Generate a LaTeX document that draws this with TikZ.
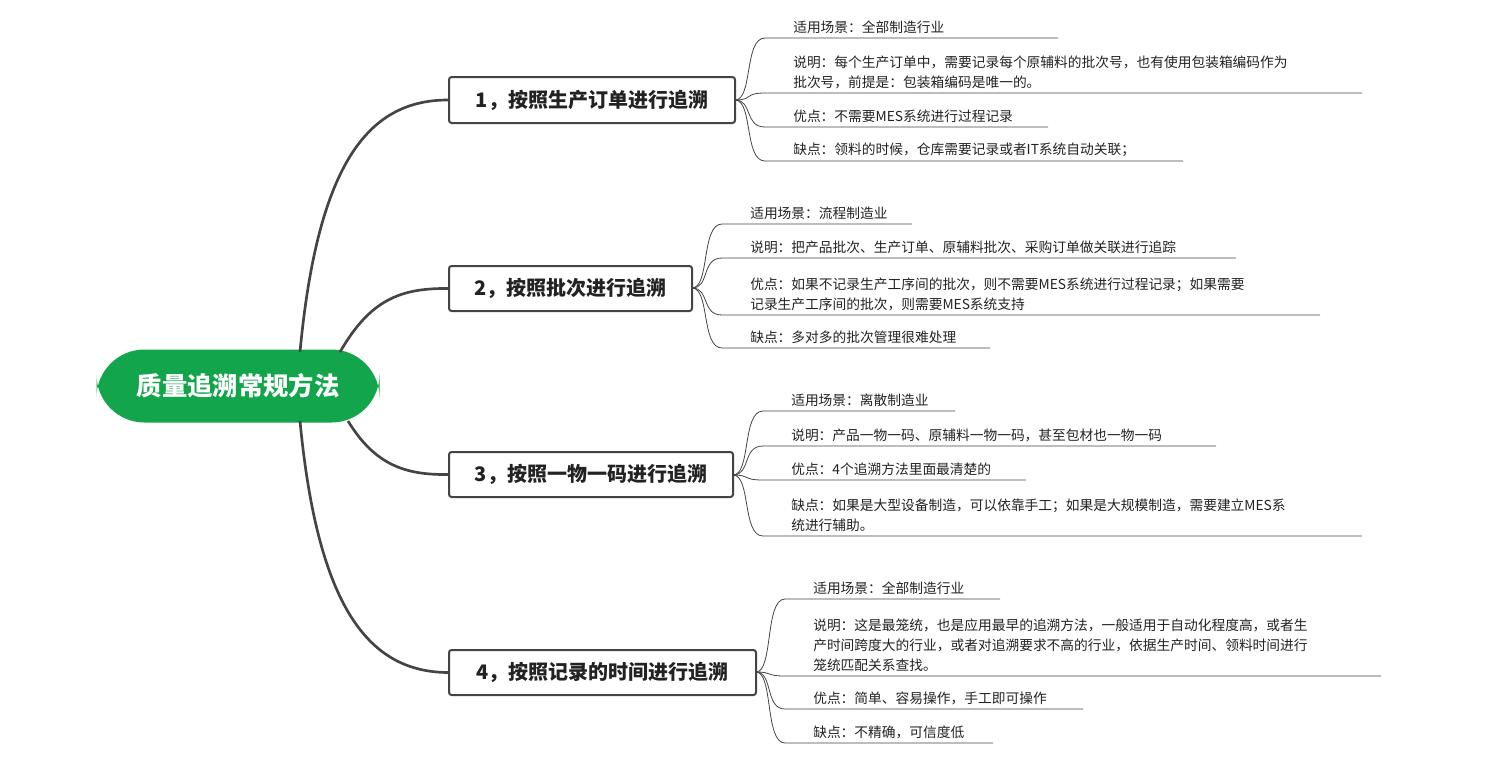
\documentclass[tikz,border=0pt]{standalone}
\usepackage{fontspec}
\setmainfont{Noto Sans CJK SC}
\definecolor{rootg}{HTML}{13A54B}
\definecolor{edge}{HTML}{444444}
\definecolor{txt}{HTML}{222222}
\tikzset{
 branch/.style={draw=edge,line width=1.5pt,rounded corners=2pt,fill=white,font=\fontsize{15}{18}\selectfont\bfseries,text=txt,inner sep=0pt},
 trunk/.style={draw=edge,line width=2pt},
 leafline/.style={draw=edge,line width=0.6pt},
 leaftxt/.style={font=\fontsize{10.3}{15}\selectfont,text=txt,align=left,anchor=south west,inner sep=0pt}
}
% #1 branch right x, #2 branch cy, #3 start x, #4 line y, #5 end x, #6 text
\newcommand\myleaf[6]{%
 \coordinate (ls) at (#3,#4);
 \coordinate (le) at (#5,#4);
 \draw[leafline] (#1,#2) .. controls ({#1+(#3-#1)*0.6},#2) and ({#1+(#3-#1)*0.3},#4) .. (ls) -- (le);
 \node[leaftxt] at ({#3+28},{#4-4}) {#6};
}
\begin{document}
\begin{tikzpicture}[x=0.75pt,y=-0.75pt]
\useasboundingbox (0,0) rectangle (1505,768);
\node[fill=rootg,rounded corners=36pt,minimum width=283*0.75pt,minimum height=73*0.75pt,text=white,font=\fontsize{19}{22}\selectfont\bfseries] (root) at (238,386) {质量追溯常规方法};
\node[branch,minimum width=286*0.75pt,minimum height=46*0.75pt] (b1) at (592,100) {1，按照生产订单进行追溯};
\node[branch,minimum width=243*0.75pt,minimum height=45*0.75pt] (b2) at (570.5,288.5) {2，按照批次进行追溯};
\node[branch,minimum width=284*0.75pt,minimum height=45*0.75pt] (b3) at (591,474.5) {3，按照一物一码进行追溯};
\node[branch,minimum width=307*0.75pt,minimum height=45*0.75pt] (b4) at (602.5,672.5) {4，按照记录的时间进行追溯};
\begin{scope}[on background layer/.try]
\end{scope}
\draw[trunk] (300,352) .. controls (318,160) and (370,100) .. (b1.west);
\draw[trunk] (340,352) .. controls (370,300) and (400,288) .. (b2.west);
\draw[trunk] (348,421) .. controls (375,465) and (405,475) .. (b3.west);
\draw[trunk] (300,421) .. controls (318,610) and (370,672) .. (b4.west);
\myleaf{735}{100}{765}{38}{1058}{适用场景：全部制造行业}
\myleaf{735}{100}{765}{93}{1362}{说明：每个生产订单中，需要记录每个原辅料的批次号，也有使用包装箱编码作为\\批次号，前提是：包装箱编码是唯一的。}
\myleaf{735}{100}{765}{127}{1048}{优点：不需要MES系统进行过程记录}
\myleaf{735}{100}{765}{161}{1183}{缺点：领料的时候，仓库需要记录或者IT系统自动关联；}
\myleaf{692}{288}{722}{224}{912}{适用场景：流程制造业}
\myleaf{692}{288}{722}{258}{1236}{说明：把产品批次、生产订单、原辅料批次、采购订单做关联进行追踪}
\myleaf{692}{288}{722}{315}{1320}{优点：如果不记录生产工序间的批次，则不需要MES系统进行过程记录；如果需要\\记录生产工序间的批次，则需要MES系统支持}
\myleaf{692}{288}{722}{348}{990}{缺点：多对多的批次管理很难处理}
\myleaf{733}{475}{763}{411}{955}{适用场景：离散制造业}
\myleaf{733}{475}{763}{446}{1216}{说明：产品一物一码、原辅料一物一码，甚至包材也一物一码}
\myleaf{733}{475}{763}{480}{1026}{优点：4个追溯方法里面最清楚的}
\myleaf{733}{475}{763}{536}{1362}{缺点：如果是大型设备制造，可以依靠手工；如果是大规模制造，需要建立MES系\\统进行辅助。}
\myleaf{756}{672}{785}{599}{1000}{适用场景：全部制造行业}
\myleaf{756}{672}{785}{676}{1381}{说明：这是最笼统，也是应用最早的追溯方法，一般适用于自动化程度高，或者生\\产时间跨度大的行业，或者对追溯要求不高的行业，依据生产时间、领料时间进行\\笼统匹配关系查找。}
\myleaf{756}{672}{785}{709}{1083}{优点：简单、容易操作，手工即可操作}
\myleaf{756}{672}{785}{743}{993}{缺点：不精确，可信度低}
\end{tikzpicture}
\end{document}
